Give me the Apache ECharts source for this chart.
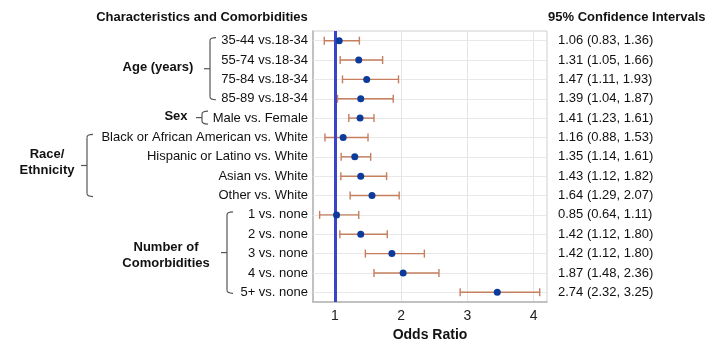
<!DOCTYPE html>
<html><head><meta charset="utf-8">
<script src="https://cdn.jsdelivr.net/npm/echarts@6/dist/echarts.min.js"></script>
<style>html,body{margin:0;padding:0;background:#fff}#c{width:713px;height:345px}</style>
</head><body><div id="c"></div>
<script>
const categories = ['35-44 vs.18-34','55-74 vs.18-34','75-84 vs.18-34','85-89 vs.18-34','Male vs. Female',
  'Black or African American vs. White','Hispanic or Latino vs. White','Asian vs. White','Other vs. White',
  '1 vs. none','2 vs. none','3 vs. none','4 vs. none','5+ vs. none'];
const oddsRatio = [1.065,1.36,1.48,1.39,1.38,1.125,1.30,1.39,1.56,1.025,1.39,1.86,2.03,3.45];
const lower =     [0.84,1.08,1.115,1.04,1.21,0.85,1.095,1.09,1.23,0.77,1.075,1.46,1.59,2.89];
const upper =     [1.37,1.72,1.96,1.88,1.59,1.50,1.54,1.78,1.97,1.36,1.79,2.35,2.57,4.09];
const ciLabels = ['1.06 (0.83, 1.36)','1.31 (1.05, 1.66)','1.47 (1.11, 1.93)','1.39 (1.04, 1.87)','1.41 (1.23, 1.61)',
  '1.16 (0.88, 1.53)','1.35 (1.14, 1.61)','1.43 (1.12, 1.82)','1.64 (1.29, 2.07)','0.85 (0.64, 1.11)',
  '1.42 (1.12, 1.80)','1.42 (1.12, 1.80)','1.87 (1.48, 2.36)','2.74 (2.32, 3.25)'];
const xTicks = [1,2,3,4];
const refValue = 1;
const groups = [
  {lines:['Age (years)'], from:0, to:3, xv:210, cx:158, dy:-1},
  {lines:['Sex'], from:4, to:4, xv:202, cx:176, dy:-1},
  {lines:['Race/','Ethnicity'], from:5, to:8, xv:87, cx:47, dy:-3},
  {lines:['Number of','Comorbidities'], from:9, to:13, xv:227, cx:166, dy:3}
];

const chart = echarts.init(document.getElementById('c'));
const FONT = 'Liberation Sans, Arial, sans-serif';
const option = {
  animation:false,
  textStyle:{fontFamily:FONT},
  title:[
    {text:'Characteristics and Comorbidities', left:197, top:6, textAlign:'center',
     textStyle:{fontSize:13, fontWeight:'bold', color:'#111', fontFamily:FONT}},
    {text:'95% Confidence Intervals', left:543, top:6,
     textStyle:{fontSize:13, fontWeight:'bold', color:'#111', fontFamily:FONT}}
  ],
  grid:{left:313, right:166, top:31, bottom:43, show:true, borderColor:'#cfcfcf', borderWidth:1,
        containLabel:false, outerBoundsMode:'none'},
  xAxis:{type:'value', min:0.67, max:4.2,
    axisLine:{show:true, lineStyle:{color:'#b5b5b5', width:1.5}},
    axisTick:{show:false, customValues:xTicks},
    axisLabel:{customValues:xTicks, fontSize:14, color:'#222', margin:7, fontFamily:FONT},
    splitLine:{show:true, lineStyle:{color:'#e4e4e4'}},
    name:'Odds Ratio', nameLocation:'middle', nameGap:22,
    nameTextStyle:{fontSize:14, fontWeight:'bold', color:'#111', fontFamily:FONT}
  },
  yAxis:[
    {type:'category', data:categories, inverse:true,
     axisLine:{show:true, lineStyle:{color:'#b5b5b5', width:1.5}}, axisTick:{show:false},
     axisLabel:{fontSize:13, color:'#111', margin:5, fontFamily:FONT},
     splitLine:{show:false}},
    {type:'category', data:categories, inverse:true, position:'right',
     axisLine:{show:false}, axisTick:{show:false},
     axisLabel:{fontSize:13, color:'#111', margin:11, align:'left', fontFamily:FONT,
       formatter:(v, i)=>ciLabels[i]}}
  ],
  series:[
    {type:'custom', yAxisIndex:0, silent:true,
     data: categories.map((c,i)=>[lower[i], upper[i], i]),
     encode:{x:[0,1], y:2},
     renderItem:(params, api)=>{
       const lo = api.coord([api.value(0), api.value(2)]);
       const hi = api.coord([api.value(1), api.value(2)]);
       const h = 4;
       const st = {stroke:'#c57e5e', lineWidth:1.4};
       return {type:'group', children:[
         {type:'line', shape:{x1:lo[0], y1:lo[1], x2:hi[0], y2:hi[1]}, style:st},
         {type:'line', shape:{x1:lo[0], y1:lo[1]-h, x2:lo[0], y2:lo[1]+h}, style:st},
         {type:'line', shape:{x1:hi[0], y1:hi[1]-h, x2:hi[0], y2:hi[1]+h}, style:st}
       ]};
     },
     z:3
    },
    {type:'scatter', yAxisIndex:0, symbol:'circle', symbolSize:7,
     itemStyle:{color:'#0d3b9c', opacity:1},
     data: categories.map((c,i)=>[oddsRatio[i], c]),
     z:5,
     markLine:{silent:true, symbol:'none', label:{show:false},
       lineStyle:{color:'#e8e8e8', width:1, type:'solid'},
       data: categories.map(c=>({yAxis:c})), z:1}
    },
    {type:'scatter', yAxisIndex:0, data:[], z:4,
     markLine:{silent:true, symbol:'none', label:{show:false},
       lineStyle:{color:'#3a44c8', width:3, type:'solid'},
       data:[{xAxis:refValue}], z:4}
    }
  ]
};
chart.setOption(option);

const gfx = [];
const bst = {stroke:'#555', lineWidth:1.2, fill:null};
groups.forEach(g=>{
  const yT0 = chart.convertToPixel({yAxisIndex:0}, categories[g.from]);
  const yB0 = chart.convertToPixel({yAxisIndex:0}, categories[g.to]);
  let yT = yT0 - 3, yB = yB0 + 1;
  if (g.from === g.to) { yT = yT0 - 7; yB = yT0 + 6; }
  const yM = (yT + yB)/2;
  const xv = g.xv, r = 3;
  gfx.push({type:'bezierCurve', silent:true,
    shape:{x1:xv+6, y1:yT, cpx1:xv, cpy1:yT, x2:xv, y2:yT+r}, style:bst});
  gfx.push({type:'line', silent:true,
    shape:{x1:xv, y1:yT+r, x2:xv, y2:yB-r}, style:bst});
  gfx.push({type:'bezierCurve', silent:true,
    shape:{x1:xv, y1:yB-r, cpx1:xv, cpy1:yB, x2:xv+6, y2:yB}, style:bst});
  gfx.push({type:'line', silent:true,
    shape:{x1:xv-6, y1:yM, x2:xv, y2:yM}, style:bst});
  const n = g.lines.length, lh = 16;
  g.lines.forEach((t, k)=>{
    gfx.push({type:'text', silent:true, x:g.cx, y: yM + g.dy - (n*lh)/2 + k*lh + lh/2,
      style:{text:t, fill:'#111', font:`bold 13px ${FONT}`, align:'center', verticalAlign:'middle'}});
  });
});
chart.setOption({graphic:gfx});
</script></body></html>
